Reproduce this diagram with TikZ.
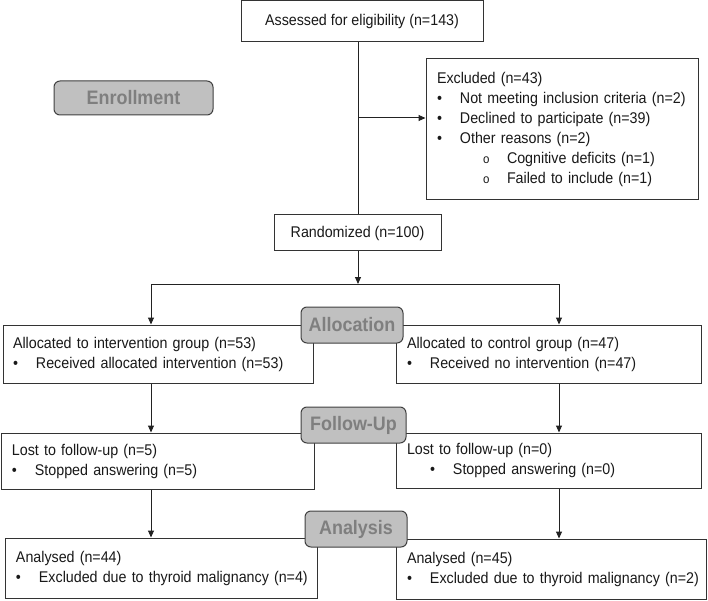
\documentclass[tikz,border=0pt]{standalone}
\usepackage{fontspec}
\setmainfont{Liberation Sans}[FakeStretch=0.92]
\usetikzlibrary{arrows.meta}
\definecolor{lineclr}{HTML}{222222}
\definecolor{boxclr}{HTML}{333333}
\definecolor{labfill}{HTML}{C0C0C0}
\definecolor{labtext}{HTML}{7F7F7F}
\definecolor{labdraw}{HTML}{404040}
\newcommand\bitem[2][0pt]{\mbox{\hspace*{#1}\makebox[23pt][l]{\textbullet}#2}}
\newcommand\sitem[1]{\mbox{\hspace*{46pt}\makebox[24pt][l]{\fontsize{12.5}{12}\selectfont o}#1}}
\begin{document}
\begin{tikzpicture}[x=1pt,y=-1pt,
  box/.style={draw=boxclr, line width=1pt, fill=white, inner ysep=0pt,
    font=\fontsize{15.5}{20}\selectfont, text=black!90},
  lbox/.style={box, align=left, inner xsep=11pt},
  cbox/.style={box, align=center},
  phase/.style={draw=labdraw, line width=1pt, fill=labfill, rounded corners=6pt,
    text=labtext, font=\fontsize{19.5}{19.5}\selectfont\bfseries, inner sep=0pt},
  arr/.style={draw=lineclr, line width=1pt, -{Triangle[length=7pt,width=6pt]}},
  ln/.style={draw=lineclr, line width=1pt}]
\useasboundingbox (0,0) rectangle (708,601);

% main boxes
\node[cbox, minimum width=242pt, minimum height=41pt] (ass) at (362,21.5) {Assessed for eligibility (n=143)};
\node[lbox, text width=250pt, minimum height=141pt] (exc) at (562,129.5)
  {\mbox{Excluded (n=43)}\\
   \bitem{Not meeting inclusion criteria (n=2)}\\
   \bitem{Declined to participate (n=39)}\\
   \bitem{Other reasons (n=2)}\\
   \sitem{Cognitive deficits (n=1)}\\
   \sitem{Failed to include (n=1)}};
\node[cbox, minimum width=167pt, minimum height=36pt] (rand) at (357.5,233) {Randomized (n=100)};

\node[lbox, inner xsep=10pt, text width=290pt, minimum height=58pt] (al) at (158,354)
  {\mbox{Allocated to intervention group (n=53)}\\
   \bitem{Received allocated intervention (n=53)}};
\node[lbox, text width=283pt, minimum height=58pt] (ar) at (548.5,354)
  {\mbox{Allocated to control group (n=47)}\\
   \bitem{Received no intervention (n=47)}};

\node[lbox, text width=291pt, minimum height=56pt] (fl) at (157.5,461)
  {\mbox{Lost to follow-up (n=5)}\\
   \bitem{Stopped answering (n=5)}};
\node[lbox, text width=283pt, minimum height=55pt] (fr) at (548.5,460.5)
  {\mbox{Lost to follow-up (n=0)}\\
   \bitem[23pt]{Stopped answering (n=0)}};

\node[lbox, text width=290pt, minimum height=60pt] (nl) at (161,568)
  {\mbox{Analysed (n=44)}\\
   \bitem{Excluded due to thyroid malignancy (n=4)}};
\node[lbox, text width=288pt, minimum height=60pt] (nr) at (551,569)
  {\mbox{Analysed (n=45)}\\
   \bitem{Excluded due to thyroid malignancy (n=2)}};

% phase labels
\node[phase, minimum width=159pt, minimum height=34pt] (enr) at (133.5,98) {Enrollment};
\node[phase, minimum width=102pt, minimum height=36pt] (alloc) at (352,325) {Allocation};
\node[phase, minimum width=105pt, minimum height=36pt] (fol) at (353.5,425) {Follow-Up};
\node[phase, minimum width=102pt, minimum height=36pt] (ana) at (356,529) {Analysis};

% helper coordinates
\coordinate (tx) at (358,0);
\coordinate (ey) at (0,118);
\coordinate (hl) at (151,284);
\coordinate (hr) at (559,284);
\coordinate (sp) at (358,284);

% connectors
\draw[ln] (ass.south -| tx) -- (rand.north -| tx);
\draw[arr] (tx |- ey) -- (exc.west |- ey);
\draw[arr] (rand.south -| tx) -- (sp);
\draw[ln] (hl) -- (hr);
\draw[arr] (hl) -- (al.north -| hl);
\draw[arr] (hr) -- (ar.north -| hr);
\draw[arr] (al.south -| hl) -- (fl.north -| hl);
\draw[arr] (ar.south -| hr) -- (fr.north -| hr);
\draw[arr] (fl.south -| hl) -- (nl.north -| hl);
\draw[arr] (fr.south -| hr) -- (nr.north -| hr);
\end{tikzpicture}
\end{document}
